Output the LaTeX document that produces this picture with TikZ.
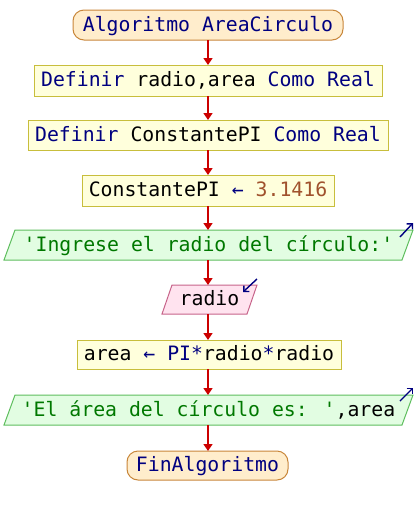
\documentclass[tikz,border=0pt]{standalone}
\usepackage{fontspec}
\newfontfamily\codefont{DejaVu Sans Mono}
\usetikzlibrary{arrows.meta}

\definecolor{termfill}{HTML}{FFEDCC}
\definecolor{termline}{HTML}{C8863A}
\definecolor{procfill}{HTML}{FFFFDC}
\definecolor{procline}{HTML}{C8BE3C}
\definecolor{outfill}{HTML}{E2FDE2}
\definecolor{outline}{HTML}{5EBE5E}
\definecolor{infill}{HTML}{FFE3EF}
\definecolor{inline}{HTML}{C7648A}
\definecolor{flowred}{HTML}{CC0000}
\definecolor{kwnavy}{HTML}{000080}
\definecolor{strgreen}{HTML}{007800}
\definecolor{numbrown}{HTML}{A0522D}

% syntax colouring of the pseudocode
\newcommand\kwd[1]{\textcolor{kwnavy}{#1}}
\newcommand\strtxt[1]{\textcolor{strgreen}{#1}}
\newcommand\numtxt[1]{\textcolor{numbrown}{#1}}

\pgfdeclarelayer{shapes}
\pgfsetlayers{shapes,main}

\begin{document}
\begin{tikzpicture}[x=1pt,y=-1pt,
  base/.style={inner sep=0pt, outer sep=0pt, line width=1pt,
    font=\codefont\fontsize{19.8pt}{24pt}\selectfont,
    text height=15pt, text depth=3pt, align=center},
  term/.style={base, draw=termline, fill=termfill, rounded corners=11pt},
  proc/.style={base, draw=procline, fill=procfill},
  slot/.style={base},
  flow/.style={draw=flowred, line width=1.6pt, -{Triangle[width=9pt,length=7pt]}},
  io/.style={draw=kwnavy, line width=1.4pt, -{Straight Barb[length=4pt,width=8pt]}},
  outshape/.style={draw=outline, fill=outfill, line width=1pt},
  inshape/.style={draw=inline, fill=infill, line width=1pt}]
\useasboundingbox (0,0) rectangle (416,515);

% flowchart steps
\node[term, minimum width=270pt, minimum height=30pt] (start) at (208,25) {\kwd{Algoritmo AreaCirculo}};
\node[proc, minimum width=348pt, minimum height=31pt] (def1) at (208,80.5) {\kwd{Definir} radio,area \kwd{Como Real}};
\node[proc, minimum width=360pt, minimum height=30pt] (def2) at (208,135) {\kwd{Definir} ConstantePI \kwd{Como Real}};
\node[proc, minimum width=252pt, minimum height=31pt] (asg1) at (208,190.5) {ConstantePI \kwd{←} \numtxt{3.1416}};
\node[slot, minimum width=398pt, minimum height=30pt] (out1) at (208.5,245) {\strtxt{'Ingrese el radio del círculo:'}};
\node[slot, minimum width=85pt, minimum height=29pt] (in1) at (209.5,299.5) {radio};
\node[proc, minimum width=264pt, minimum height=29pt] (asg2) at (209,354.5) {area \kwd{← PI*}radio\kwd{*}radio};
\node[slot, minimum width=398pt, minimum height=30pt] (out2) at (208.5,410) {\strtxt{'El área del círculo es: '},area};
\node[term, minimum width=161pt, minimum height=29pt] (stop) at (207.5,465.5) {\kwd{FinAlgoritmo}};

% parallelogram outlines behind the input/output texts
\begin{pgfonlayer}{shapes}
  \draw[outshape] ([xshift=5.5pt]out1.north west) -- ([xshift=5.5pt]out1.north east)
    -- ([xshift=-5.5pt]out1.south east) -- ([xshift=-5.5pt]out1.south west) -- cycle;
  \draw[inshape] ([xshift=5pt]in1.north west) -- ([xshift=5pt]in1.north east)
    -- ([xshift=-5pt]in1.south east) -- ([xshift=-5pt]in1.south west) -- cycle;
  \draw[outshape] ([xshift=5.5pt]out2.north west) -- ([xshift=5.5pt]out2.north east)
    -- ([xshift=-5.5pt]out2.south east) -- ([xshift=-5.5pt]out2.south west) -- cycle;
\end{pgfonlayer}

% control flow
\draw[flow] (start.south -| 208,0) -- (def1.north -| 208,0);
\draw[flow] (def1.south -| 208,0) -- (def2.north -| 208,0);
\draw[flow] (def2.south -| 208,0) -- (asg1.north -| 208,0);
\draw[flow] (asg1.south -| 208,0) -- (out1.north -| 208,0);
\draw[flow] (out1.south -| 208,0) -- (in1.north -| 208,0);
\draw[flow] (in1.south -| 208,0) -- (asg2.north -| 208,0);
\draw[flow] (asg2.south -| 208,0) -- (out2.north -| 208,0);
\draw[flow] (out2.south -| 208,0) -- (stop.north -| 208,0);

% input / output markers
\draw[io] ([xshift=-7.5pt,yshift=-7pt]out1.north east) -- ([xshift=5.5pt,yshift=7pt]out1.north east);
\draw[io] ([xshift=5pt,yshift=6pt]in1.north east) -- ([xshift=-9pt,yshift=-7pt]in1.north east);
\draw[io] ([xshift=-7.5pt,yshift=-6pt]out2.north east) -- ([xshift=5.5pt,yshift=7pt]out2.north east);
\end{tikzpicture}
\end{document}
